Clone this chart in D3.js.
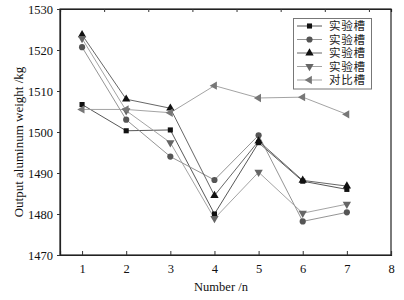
<!DOCTYPE html>
<html><head><meta charset="utf-8">
<script src="https://cdn.jsdelivr.net/npm/d3@7"></script>
<style>body{margin:0;background:#fff}svg{display:block}</style>
</head><body>
<script>
const xValues = [1, 2, 3, 4, 5, 6, 7];
const seriesNames = ["实验槽", "实验槽", "实验槽", "实验槽", "对比槽"];
const s1 = [1506.7, 1500.3, 1500.5, 1480.0, 1497.4, 1488.0, 1486.0];
const s2 = [1520.7, 1503.0, 1494.0, 1488.3, 1499.2, 1478.2, 1480.4];
const s3 = [1523.7, 1508.0, 1505.8, 1484.5, 1497.8, 1488.2, 1486.8];
const s4 = [1522.8, 1505.2, 1497.4, 1478.9, 1490.2, 1480.2, 1482.4];
const s5 = [1505.5, 1505.5, 1504.7, 1511.3, 1508.3, 1508.5, 1504.3];
const yTicks = [1470, 1480, 1490, 1500, 1510, 1520, 1530];
const xTicks = [1, 2, 3, 4, 5, 6, 7, 8];
const topTicks = [1.5, 2.5, 3.5, 4.5, 5.5, 6.5, 7.5];

const W = 404, H = 300;
const m = {l: 60, r: 13, t: 9, b: 45};
const svg = d3.select("body").append("svg").attr("width", W).attr("height", H);
const x = d3.scaleLinear().domain([0.5, 8]).range([m.l, W - m.r]);
const y = d3.scaleLinear().domain([1470, 1530]).range([H - m.b, m.t]);
const font = "'Liberation Serif', 'Times New Roman', serif";

const series = [
  {v: s1, sym: d3.symbolSquare, size: 26, fill: "#111", line: "#444"},
  {v: s2, sym: d3.symbolCircle, size: 30, fill: "#555", line: "#888"},
  {v: s3, sym: d3.symbolTriangle, size: 30, fill: "#111", line: "#555"},
  {v: s4, sym: "down", size: 30, fill: "#666", line: "#999"},
  {v: s5, sym: "left", size: 30, fill: "#777", line: "#999"}
];

function markerPath(s) {
  if (s.sym === "down" || s.sym === "left") return d3.symbol(d3.symbolTriangle, s.size)();
  return d3.symbol(s.sym, s.size)();
}
function markerRot(s) {
  if (s.sym === "down") return " rotate(180)";
  if (s.sym === "left") return " rotate(-90)";
  return "";
}

// frame
svg.append("rect").attr("x", x(0.5)).attr("y", y(1530))
  .attr("width", x(8) - x(0.5)).attr("height", y(1470) - y(1530))
  .attr("fill", "none").attr("stroke", "#222").attr("stroke-width", 1.2);

// axes
const yAxis = d3.axisLeft(y).tickValues(yTicks).tickSize(3).tickFormat(d3.format("d"));
const gy = svg.append("g").attr("transform", `translate(${m.l},0)`).call(yAxis);
const xAxis = d3.axisBottom(x).tickValues(xTicks).tickSize(-4).tickPadding(9).tickFormat(d3.format("d"));
const gx = svg.append("g").attr("transform", `translate(0,${H - m.b})`).call(xAxis);
const xTop = d3.axisTop(x).tickValues(topTicks).tickSize(-3).tickFormat("");
const gt = svg.append("g").attr("transform", `translate(0,${m.t})`).call(xTop);
[gy, gx, gt].forEach(g => {
  g.select(".domain").attr("stroke", "#222").attr("stroke-width", 1.2);
  g.selectAll(".tick line").attr("stroke", "#333");
  g.selectAll("text").attr("font-family", font).attr("font-size", 12.5).attr("fill", "#111");
});
gy.selectAll("text").attr("dx", "-1");

// axis titles
svg.append("text").attr("transform", `translate(23,142) rotate(-90)`)
  .attr("text-anchor", "middle").attr("font-family", font).attr("font-size", 13)
  .attr("fill", "#111").text("Output aluminum weight /kg");
svg.append("text").attr("x", 221).attr("y", 291).attr("text-anchor", "middle")
  .attr("font-family", font).attr("font-size", 12.5).attr("fill", "#111").text("Number /n");

// lines & markers
const line = d3.line().x((d, i) => x(xValues[i])).y(d => y(d));
series.forEach(s => {
  svg.append("path").datum(s.v).attr("d", line).attr("fill", "none")
    .attr("stroke", s.line).attr("stroke-width", 0.9);
});
series.forEach(s => {
  svg.append("g").selectAll("path").data(s.v).join("path")
    .attr("d", markerPath(s))
    .attr("transform", (d, i) => `translate(${x(xValues[i])},${y(d)})${markerRot(s)}`)
    .attr("fill", s.fill);
});

// legend
const lg = svg.append("g");
lg.append("rect").attr("x", 293.5).attr("y", 18.5).attr("width", 78).attr("height", 70.5)
  .attr("fill", "#fff").attr("stroke", "#777").attr("stroke-width", 1);
series.forEach((s, i) => {
  const yy = 26 + i * 13.5;
  lg.append("line").attr("x1", 297).attr("x2", 322).attr("y1", yy).attr("y2", yy)
    .attr("stroke", s.line).attr("stroke-width", 0.9);
  lg.append("path").attr("d", markerPath(s))
    .attr("transform", `translate(309.5,${yy})${markerRot(s)}`).attr("fill", s.fill);
  lg.append("text").attr("x", 329).attr("y", yy + 4)
    .attr("font-family", "'Liberation Serif', 'Noto Sans CJK SC', serif").attr("font-size", 11.5)
    .attr("letter-spacing", 0.8)
    .attr("fill", "#222").text(seriesNames[i]);
});
</script>
</body></html>
